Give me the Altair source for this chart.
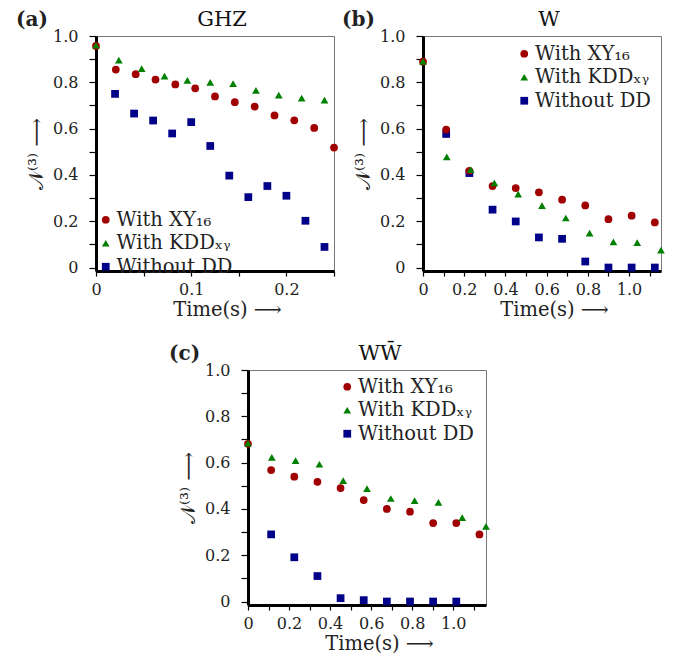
import json
import altair as alt
import pandas as pd

SERIF = "DejaVu Serif"
LAB_XY = "With XY₁₆"
LAB_KDD = "With KDDₓᵧ"
LAB_NO = "Without DD"
SERIES = [LAB_XY, LAB_KDD, LAB_NO]
COLORS = ["#a00000", "#008000", "#000088"]
SHAPES = ["circle", "triangle-up", "square"]

# ---- (a) GHZ ----
a_xy_t = [0, 0.0208, 0.0417, 0.0625, 0.0833, 0.1042, 0.125, 0.1458, 0.1667, 0.1875, 0.2083, 0.2292, 0.25]
a_xy_v = [0.957, 0.855, 0.835, 0.812, 0.791, 0.774, 0.739, 0.714, 0.695, 0.657, 0.636, 0.603, 0.518]
a_kdd_t = [0, 0.024, 0.048, 0.072, 0.096, 0.12, 0.144, 0.168, 0.192, 0.216, 0.24]
a_kdd_v = [0.96, 0.896, 0.859, 0.827, 0.808, 0.80, 0.794, 0.765, 0.745, 0.732, 0.723]
a_no_t = [0.02, 0.04, 0.06, 0.08, 0.10, 0.12, 0.14, 0.16, 0.18, 0.20, 0.22, 0.24]
a_no_v = [0.750, 0.665, 0.635, 0.579, 0.628, 0.525, 0.397, 0.304, 0.352, 0.310, 0.202, 0.089]

# ---- (b) W ----
b_xy_t = [0, 0.1125, 0.225, 0.3375, 0.45, 0.5625, 0.675, 0.7875, 0.9, 1.0125, 1.125]
b_xy_v = [0.889, 0.596, 0.418, 0.352, 0.343, 0.325, 0.293, 0.268, 0.209, 0.224, 0.195]
b_kdd_t = [0, 0.1155, 0.231, 0.3465, 0.462, 0.5775, 0.693, 0.8085, 0.924, 1.0395, 1.155]
b_kdd_v = [0.89, 0.478, 0.423, 0.365, 0.317, 0.267, 0.214, 0.149, 0.111, 0.108, 0.075]
b_no_t = [0.1125, 0.225, 0.3375, 0.45, 0.5625, 0.675, 0.7875, 0.9, 1.0125, 1.125]
b_no_v = [0.577, 0.408, 0.250, 0.199, 0.130, 0.124, 0.026, 0.0, 0.0, 0.0]

# ---- (c) WW̄ ----
c_xy_t = [0, 0.1128, 0.2256, 0.3384, 0.4512, 0.564, 0.6768, 0.7896, 0.9024, 1.0152, 1.128]
c_xy_v = [0.681, 0.568, 0.539, 0.517, 0.490, 0.438, 0.400, 0.388, 0.339, 0.339, 0.290]
c_kdd_t = [0, 0.116, 0.232, 0.348, 0.464, 0.58, 0.696, 0.812, 0.928, 1.044, 1.16]
c_kdd_v = [0.684, 0.623, 0.609, 0.593, 0.522, 0.488, 0.445, 0.436, 0.428, 0.362, 0.325]
c_no_t = [0.1128, 0.2256, 0.3384, 0.4512, 0.564, 0.6768, 0.7896, 0.9024, 1.0152]
c_no_v = [0.290, 0.191, 0.110, 0.0145, 0.006, 0.0, 0.0, 0.0, 0.0]

# ---- axis ticks / labels ----
y_ticks = [0, 0.1, 0.2, 0.3, 0.4, 0.5, 0.6, 0.7, 0.8, 0.9, 1.0]
y_tick_labels = ["0", "", "0.2", "", "0.4", "", "0.6", "", "0.8", "", "1.0"]
a_x_ticks = [0, 0.05, 0.1, 0.15, 0.2, 0.25]
a_x_labels = ["0", "", "0.1", "", "0.2", ""]
bc_x_ticks = [0, 0.1, 0.2, 0.3, 0.4, 0.5, 0.6, 0.7, 0.8, 0.9, 1.0, 1.1]
bc_x_labels = ["0", "", "0.2", "", "0.4", "", "0.6", "", "0.8", "", "1.0", ""]

W, H = 238, 235
Y_DOMAIN = [-0.015, 1.0]


def make_df(no_t, no_v, xy_t, xy_v, kdd_t, kdd_v):
    rows = []
    for lab, ts, vs in [(LAB_NO, no_t, no_v), (LAB_XY, xy_t, xy_v), (LAB_KDD, kdd_t, kdd_v)]:
        rows += [{"t": t, "v": v, "s": lab} for t, v in zip(ts, vs)]
    return pd.DataFrame(rows)


def panel(df, xmax, xticks, xlabels, title, tag, lx, ly, title_dx, tag_x):
    xexpr = json.dumps(xlabels) + "[round(datum.value*%d)]" % (20 if xmax < 0.5 else 10)
    yexpr = json.dumps(y_tick_labels) + "[round(datum.value*10)]"
    leg = alt.Legend(
        title=None, orient="none", legendX=lx, legendY=ly,
        labelFont=SERIF, labelFontSize=19.5, labelColor="#222", labelLimit=0,
        symbolSize=60, symbolStrokeWidth=0, rowPadding=2.5, labelOffset=1, padding=0,
    )
    pts = alt.Chart(df).mark_point(filled=True, opacity=1, size=60).encode(
        x=alt.X("t:Q", scale=alt.Scale(domain=[0, xmax], nice=False, zero=False),
                axis=alt.Axis(values=xticks, labelExpr=xexpr, title="Time(s) ⟶",
                              titleX=W / 2 + 12, titleY=44, titleBaseline="alphabetic",
                              titleFont=SERIF, titleFontSize=19.5, titleFontWeight="normal",
                              titleColor="#222",
                              labelFont=SERIF, labelFontSize=16, labelColor="#222",
                              labelPadding=5, tickSize=5, tickColor="black", tickWidth=1.2,
                              domainColor="black", domainWidth=3, grid=False,
                              labelOverlap=False, labelFlush=False)),
        y=alt.Y("v:Q", scale=alt.Scale(domain=Y_DOMAIN, nice=False, zero=False),
                axis=alt.Axis(values=y_ticks, labelExpr=yexpr, title="𝒩⁽³⁾ ⟶",
                              titleX=-54, titleY=H / 2, titleAngle=270,
                              titleBaseline="alphabetic", titleAlign="center",
                              titleFont=SERIF, titleFontSize=20, titleFontWeight="normal",
                              titleColor="#222",
                              labelFont=SERIF, labelFontSize=16, labelColor="#222",
                              labelPadding=11, tickSize=7, tickColor="black", tickWidth=1.2,
                              domainColor="black", domainWidth=3, grid=False,
                              labelOverlap=False, labelFlush=False)),
        color=alt.Color("s:N", scale=alt.Scale(domain=SERIES, range=COLORS), legend=leg),
        shape=alt.Shape("s:N", scale=alt.Scale(domain=SERIES, range=SHAPES), legend=leg),
        order=alt.Order("o:Q"),
    ).transform_window(o="row_number()")
    tag_mark = alt.Chart(pd.DataFrame({"k": [tag]})).mark_text(
        font=SERIF, fontSize=20, fontWeight="bold", align="left", baseline="alphabetic", color="#222"
    ).encode(x=alt.value(tag_x), y=alt.value(-10), text="k:N")
    title_mark = alt.Chart(pd.DataFrame({"k": [title]})).mark_text(
        font=SERIF, fontSize=21, align="center", baseline="alphabetic", color="#111"
    ).encode(x=alt.value(W / 2 + title_dx), y=alt.value(-10), text="k:N")
    return alt.layer(pts, tag_mark, title_mark).properties(
        width=W, height=H,
        view=alt.ViewBackground(stroke="#777", strokeWidth=1),
    )


pa = panel(make_df(a_no_t, a_no_v, a_xy_t, a_xy_v, a_kdd_t, a_kdd_v), 0.25, a_x_ticks, a_x_labels,
           "GHZ", "(a)", 0, 174, 7, -80)
pb = panel(make_df(b_no_t, b_no_v, b_xy_t, b_xy_v, b_kdd_t, b_kdd_v), 1.155, bc_x_ticks, bc_x_labels,
           "W", "(b)", 91.5, 8, 7, -81)
pc = panel(make_df(c_no_t, c_no_v, c_xy_t, c_xy_v, c_kdd_t, c_kdd_v), 1.16, bc_x_ticks, bc_x_labels,
           "WW̄", "(c)", 89.5, 7, 13, -79)

spacer = alt.Chart(pd.DataFrame({"d": [0]})).mark_point(opacity=0).encode(
    x=alt.value(0), y=alt.value(0)
).properties(width=71, height=40, view=alt.ViewBackground(stroke="transparent"))

top = alt.hconcat(pa, pb, spacing=2).resolve_scale(color="independent", shape="independent")
bottom = alt.hconcat(spacer, pc, spacing=0).resolve_scale(color="independent", shape="independent")
chart = alt.vconcat(top, bottom, spacing=23).resolve_scale(
    color="independent", shape="independent"
).properties(
    padding={"left": 7, "top": 0, "right": 5, "bottom": 5}
).configure(background="white")

chart.save("out.html", embed_options={"renderer": "svg", "actions": False})
